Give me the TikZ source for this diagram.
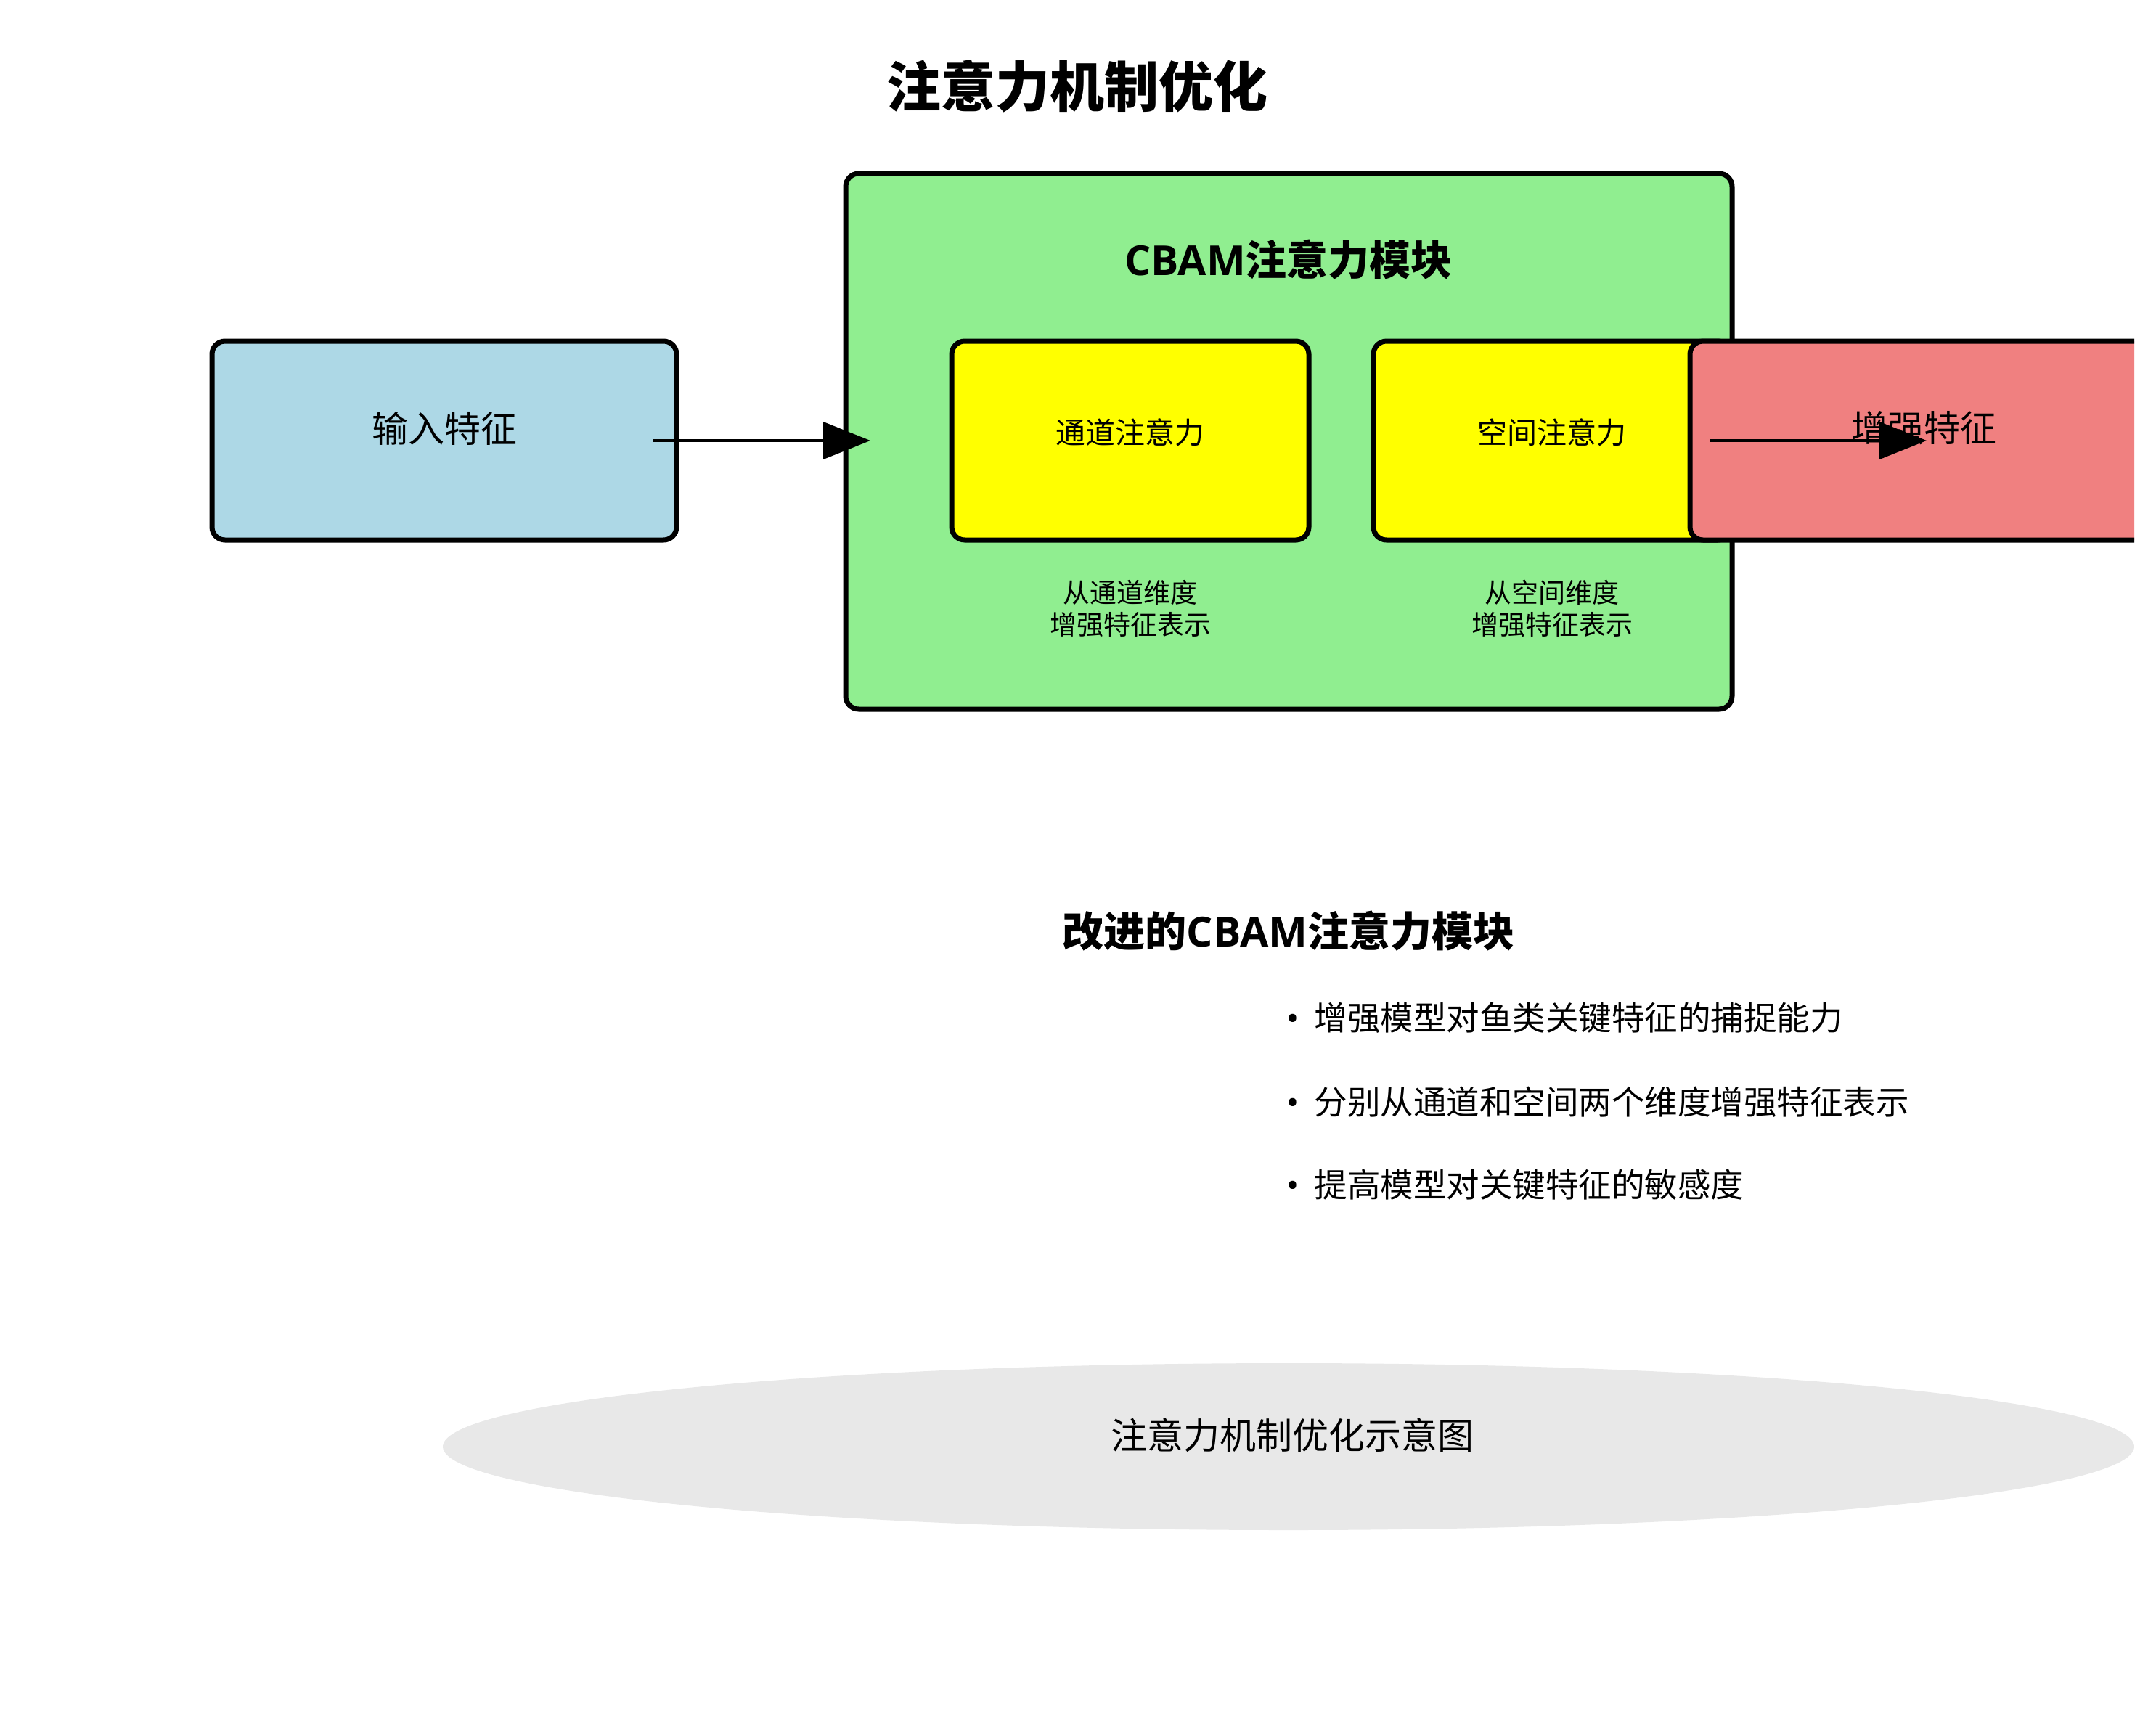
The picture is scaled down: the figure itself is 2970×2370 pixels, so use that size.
\documentclass[tikz,border=0pt]{standalone}
\usepackage{fontspec}
\setmainfont{Noto Sans CJK SC}
\newfontfamily\latinf{Noto Sans}
\newfontfamily\latinb{Open Sans}
\usetikzlibrary{arrows.meta}
\definecolor{inblue}{HTML}{ADD8E6}
\definecolor{mgreen}{HTML}{90EE90}
\definecolor{myellow}{HTML}{FFFF00}
\definecolor{mred}{HTML}{F08080}
\definecolor{mgray}{HTML}{E8E8E8}
\tikzset{
  box/.style={draw=black, line width=0.7mm, rounded corners=1.8mm, inner sep=0pt},
  conn/.style={line width=0.4mm, -{Triangle[length=6.5mm, width=5.1mm]}},
  lbl/.style={inner sep=0pt, align=center},
  bullettext/.style={inner sep=0pt, anchor=west, font=\fontsize{4.55mm}{5.5mm}\selectfont},
}
\newcommand{\bul}{{\latinf •}\hspace{2.1mm}}
\begin{document}
\begin{tikzpicture}[x=0.1mm, y=-0.1mm]
\useasboundingbox (0,0) rectangle (2970,2370);
% title
\node[lbl, font=\bfseries\fontsize{7.5mm}{9mm}\selectfont] (title) at (1484,119) {注意力机制优化};
% input
\node[box, fill=inblue, minimum width=64mm, minimum height=27.4mm] (inbox) at (612,607) {};
\node[lbl, font=\fontsize{5mm}{6mm}\selectfont] (intext) at (612,590) {输入特征};
% CBAM module
\node[box, fill=mgreen, minimum width=122.1mm, minimum height=73.8mm] (cbam) at (1775.5,608) {};
\node[lbl, font=\bfseries\fontsize{5.7mm}{7mm}\selectfont] (cbamtitle) at (1775,358) {{\latinb\bfseries CBAM}注意力模块};
\node[box, fill=myellow, minimum width=49.2mm, minimum height=27.4mm] (chan) at (1557,607) {};
\node[lbl, font=\fontsize{4.1mm}{5mm}\selectfont] (chantext) at (1557,596) {通道注意力};
\node[box, fill=myellow, minimum width=49.2mm, minimum height=27.4mm] (spat) at (2138,607) {};
\node[lbl, font=\fontsize{4.1mm}{5mm}\selectfont] (spattext) at (2138,596) {空间注意力};
\node[lbl, font=\fontsize{3.7mm}{4.4mm}\selectfont] (chandesc) at (1557,838) {从通道维度\\增强特征表示};
\node[lbl, font=\fontsize{3.7mm}{4.4mm}\selectfont] (spatdesc) at (2138,838) {从空间维度\\增强特征表示};
% output (clipped at right)
\begin{scope}
\clip (0,0) rectangle (2940,2370);
\node[box, fill=mred, minimum width=64mm, minimum height=27.4mm] (outbox) at (2648,607) {};
\end{scope}
\node[lbl, font=\fontsize{5mm}{6mm}\selectfont] (outtext) at (2650,590) {增强特征};
% arrows
\coordinate (a1s) at (900,607);
\coordinate (a1e) at (1199,607);
\coordinate (a2s) at (2356,607);
\coordinate (a2e) at (2654,607);
\draw[conn] (a1s) -- (a1e);
\draw[conn] (a2s) -- (a2e);
% improved section
\node[lbl, font=\bfseries\fontsize{5.7mm}{7mm}\selectfont] (imptitle) at (1775,1283) {改进的{\latinb\bfseries CBAM}注意力模块};
\node[bullettext] (b1) at (1772,1402) {\bul 增强模型对鱼类关键特征的捕捉能力};
\node[bullettext] (b2) at (1772,1518) {\bul 分别从通道和空间两个维度增强特征表示};
\node[bullettext] (b3) at (1772,1632) {\bul 提高模型对关键特征的敏感度};
% caption ellipse
\fill[mgray] (1775,1993) ellipse [x radius=1165, y radius=115];
\node[lbl, font=\fontsize{5mm}{6mm}\selectfont] (caption) at (1780,1977) {注意力机制优化示意图};
\end{tikzpicture}
\end{document}
